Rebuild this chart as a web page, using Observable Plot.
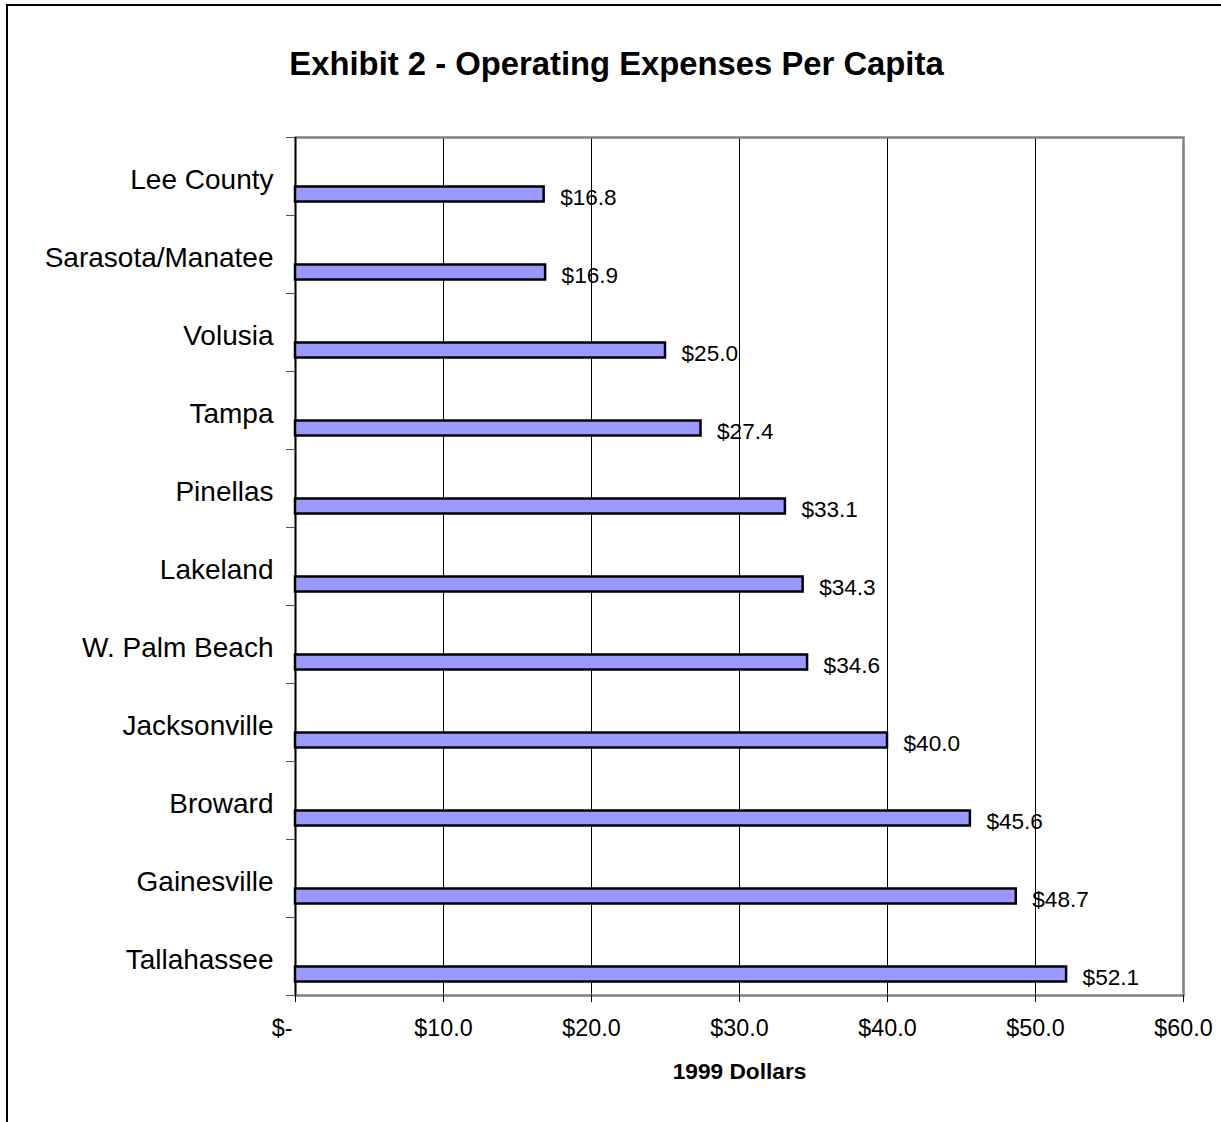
<!DOCTYPE html>
<html>
<head>
<meta charset="utf-8">
<script src="https://cdn.jsdelivr.net/npm/d3@7"></script>
<script src="https://cdn.jsdelivr.net/npm/@observablehq/plot@0.6"></script>
<style>
  html, body { margin: 0; padding: 0; background: white; }
  #wrap { position: relative; width: 1221px; height: 1122px; overflow: hidden; font-family: "Liberation Sans", Arial, sans-serif; }
  #border { position: absolute; left: 6px; top: 4px; width: 1300px; height: 1200px; border-left: 2px solid black; border-top: 2px solid black; z-index: 2; pointer-events: none; }
  #title { position: absolute; left: 0; top: 48px; width: 1233px; text-align: center; font-size: 32.8px; line-height: 32px; font-weight: bold; color: black; z-index: 3; }
  #chart { position: absolute; left: 0; top: 0; }
</style>
</head>
<body>
<div id="wrap">
  <div id="border"></div>
  <div id="title">Exhibit 2 - Operating Expenses Per Capita</div>
  <div id="chart"></div>
</div>
<script>
const categories = ["Lee County", "Sarasota/Manatee", "Volusia", "Tampa", "Pinellas", "Lakeland", "W. Palm Beach", "Jacksonville", "Broward", "Gainesville", "Tallahassee"];
const values = [16.8, 16.9, 25.0, 27.4, 33.1, 34.3, 34.6, 40.0, 45.6, 48.7, 52.1];
const valueLabels = ["$16.8", "$16.9", "$25.0", "$27.4", "$33.1", "$34.3", "$34.6", "$40.0", "$45.6", "$48.7", "$52.1"];
const xTicks = [0, 10, 20, 30, 40, 50, 60];
const xTickLabels = ["$-", "$10.0", "$20.0", "$30.0", "$40.0", "$50.0", "$60.0"];
const axisTitle = "1999 Dollars";

const data = categories.map((name, i) => ({name, value: values[i], label: valueLabels[i]}));
const tickData = xTicks.map((t, i) => ({t, label: xTickLabels[i]}));

const chart = Plot.plot({
  width: 1221,
  height: 1122,
  marginLeft: 295,
  marginRight: 38,
  marginTop: 137,
  marginBottom: 127,
  style: {background: "transparent", fontFamily: "'Liberation Sans', Arial, sans-serif", color: "black", overflow: "visible"},
  x: {domain: [0, 60], axis: null},
  y: {domain: categories, padding: 0, axis: null},
  marks: [
    Plot.ruleX(xTicks.slice(1, -1), {stroke: "black", strokeWidth: 1}),
    Plot.frame({stroke: "#808080", strokeWidth: 2.5}),
    Plot.ruleX([0], {stroke: "black", strokeWidth: 1.5}),
    Plot.axisX({ticks: xTicks, tickSize: 7, tickFormat: () => "", stroke: "black", label: null}),
    Plot.axisY({tickSize: 9, tickFormat: () => "", stroke: "#555", dy: -39, label: null}),
    Plot.axisY({tickSize: 9, tickFormat: () => "", stroke: "#555", dy: 39, label: null}),
    Plot.barX(data, {x: "value", y: "name", fill: "#9999FF", stroke: "black", strokeWidth: 2.5, insetTop: 49.5, insetBottom: 13.5}),
    Plot.text(data, {x: "value", y: "name", text: "label", textAnchor: "start", dx: 16, dy: 21, fontSize: 22.6, fill: "black"}),
    Plot.text(categories, {y: d => d, text: d => d, frameAnchor: "left", textAnchor: "end", dx: -22, dy: 4, fontSize: 28, fill: "black"}),
    Plot.text(tickData.slice(1), {x: "t", text: "label", frameAnchor: "bottom", dy: 40, fontSize: 23.3, fill: "black"}),
    Plot.text(tickData.slice(0, 1), {x: "t", text: "label", frameAnchor: "bottom", textAnchor: "end", dx: -3, dy: 40, fontSize: 23.3, fill: "black"}),
    Plot.text([axisTitle], {frameAnchor: "bottom", dy: 83, fontSize: 22.7, fontWeight: "bold", fill: "black"})
  ]
});
document.getElementById("chart").appendChild(chart);
</script>
</body>
</html>
